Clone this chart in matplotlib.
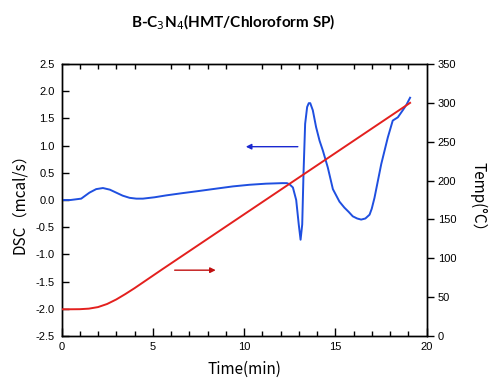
import matplotlib
matplotlib.use("Agg")
import matplotlib.pyplot as plt
from matplotlib.ticker import MultipleLocator, FormatStrFormatter

# ---- data ----
dsc_time = [0.0, 0.5, 1.08, 1.53, 1.9, 2.27, 2.65, 3.0, 3.35, 3.73, 4.1, 4.46, 5.1, 5.74,
            6.6, 7.56, 8.5, 9.39, 10.3, 11.2, 12.1, 12.35, 12.49, 12.68, 12.86, 13.0,
            13.1, 13.19, 13.26, 13.35, 13.46, 13.55, 13.63, 13.77, 13.95, 14.14, 14.32,
            14.59, 14.87, 15.23, 15.5, 15.74, 15.96, 16.2, 16.42, 16.65, 16.88, 17.0,
            17.15, 17.52, 17.88, 18.15, 18.43, 18.7, 18.9, 19.1]
dsc_value = [0.0, 0.0, 0.025, 0.135, 0.2, 0.22, 0.19, 0.135, 0.08, 0.04, 0.025, 0.025, 0.05, 0.085,
             0.125, 0.167, 0.21, 0.25, 0.28, 0.30, 0.31, 0.31, 0.29, 0.23, 0.0, -0.45,
             -0.73, -0.45, 0.48, 1.40, 1.71, 1.78, 1.78, 1.65, 1.34, 1.09, 0.91,
             0.60, 0.20, -0.03, -0.14, -0.22, -0.30, -0.34, -0.36, -0.34, -0.27, -0.16,
             0.04, 0.66, 1.15, 1.46, 1.52, 1.65, 1.75, 1.88]

temp_time = [0.0, 0.5, 1.0, 1.5, 2.0, 2.5, 3.0, 3.5, 4.0, 4.5, 5.0, 5.5, 19.1]
temp_value = [34.4, 34.4, 34.5, 35.2, 37.2, 41.2, 47.0, 54.0, 61.5, 69.5, 77.5, 85.5, 300.0]

title_text = r"B-C$_3$N$_4$(HMT/Chloroform SP)"
x_label = "Time(min)"
y_label = "DSC（mcal/s）"
y2_label = "Temp(°C）"

# arrows (data coords): (start_x, end_x, y)
blue_arrow = (12.95, 10.1, 0.98)
red_arrow = (6.2, 8.45, -1.29)

# ---- figure ----
plt.rcParams['font.family'] = ['Liberation Sans', 'DejaVu Sans']
fig = plt.figure(figsize=(4.9, 3.78), dpi=100)
ax = fig.add_axes([61.5 / 490, 42 / 378, (426.5 - 61.5) / 490, (336 - 64) / 378])
ax2 = ax.twinx()

ax.plot(dsc_time, dsc_value, color="#1f4fe0", lw=1.4, zorder=3)
ax2.plot(temp_time, temp_value, color="#e3201e", lw=1.4, zorder=3)

ax.set_xlim(0, 20)
ax.set_ylim(-2.5, 2.5)
ax2.set_ylim(0, 350)

ax.xaxis.set_major_locator(MultipleLocator(5))
ax.xaxis.set_minor_locator(MultipleLocator(1))
ax.yaxis.set_major_locator(MultipleLocator(0.5))
ax.yaxis.set_major_formatter(FormatStrFormatter("%.1f"))
ax2.yaxis.set_major_locator(MultipleLocator(50))

ax.tick_params(axis='x', which='major', direction='in', length=6, width=1, top=False,
               labelsize=8, pad=4)
ax.tick_params(axis='x', which='minor', direction='in', length=3.5, width=1, top=True)
ax.tick_params(axis='y', which='major', direction='in', length=5, width=1, labelsize=8, pad=5)
ax2.tick_params(axis='y', which='major', direction='out', length=5, width=1, labelsize=8, pad=3)

for sp in ax.spines.values():
    sp.set_linewidth(1.0)
for sp in ax2.spines.values():
    sp.set_linewidth(1.0)

lab_font = ['Noto Sans CJK JP', 'DejaVu Sans']
ax.set_xlabel(x_label, fontsize=11, family=lab_font, labelpad=7)
ax.set_ylabel(y_label, fontsize=11, family=lab_font, labelpad=5)
ax2.set_ylabel(y2_label, fontsize=11, family=lab_font, rotation=270, labelpad=22)

fig.text(0.475, 0.94, title_text, ha='center', va='center', fontsize=11,
         fontweight='bold', family=['Lato', 'DejaVu Sans'])

ax.annotate("", xy=(blue_arrow[1], blue_arrow[2]), xytext=(blue_arrow[0], blue_arrow[2]),
            arrowprops=dict(arrowstyle='-|>', color="#7a80c8", lw=1.0,
                            mutation_scale=8, shrinkA=0, shrinkB=0,
                            fc="#1a28d0", ec="#1a28d0"))
ax.annotate("", xy=(red_arrow[1], red_arrow[2]), xytext=(red_arrow[0], red_arrow[2]),
            arrowprops=dict(arrowstyle='-|>', color="#c08080", lw=1.0,
                            mutation_scale=8, shrinkA=0, shrinkB=0,
                            fc="#c01010", ec="#c01010"))

fig.savefig("out.png", dpi=100)
